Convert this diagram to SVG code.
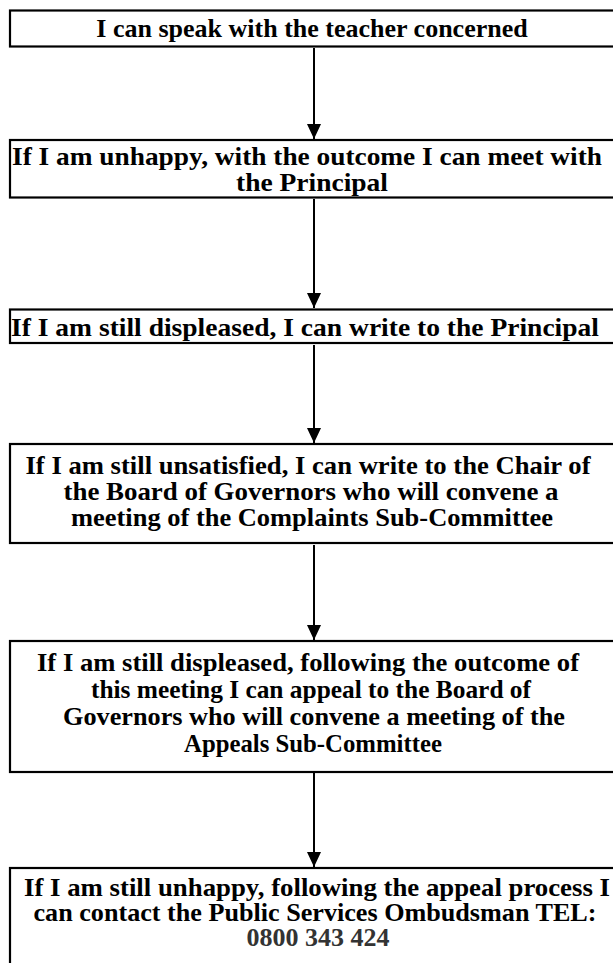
<svg xmlns="http://www.w3.org/2000/svg" width="613" height="963" viewBox="0 0 613 963">
<defs>
<style>
.box{fill:#ffffff;stroke:#000000;stroke-width:2.2}
.t{font-family:"Liberation Serif","Times New Roman",serif;font-weight:bold;font-size:26px;fill:#000000;text-anchor:middle}
.g{fill:#333333}
.c{stroke:#000000;stroke-width:2;fill:none;marker-end:url(#ah)}
</style>
<marker id="ah" markerUnits="userSpaceOnUse" markerWidth="16" markerHeight="16" viewBox="0 0 16 16" refX="15" refY="8" orient="auto">
<path d="M0,1 L15,8 L0,15 Z" fill="#000000"/>
</marker>
</defs>
<rect width="613" height="963" fill="#ffffff"/>
<g id="connectors">
<line class="c" x1="314" y1="48" x2="314" y2="139"/>
<line class="c" x1="314" y1="199" x2="314" y2="308"/>
<line class="c" x1="314" y1="345" x2="314" y2="443"/>
<line class="c" x1="314" y1="545" x2="314" y2="640"/>
<line class="c" x1="314" y1="773" x2="314" y2="867"/>
</g>
<g id="n1">
<rect class="box" x="10" y="10.5" width="615" height="36"/>
<text class="t" x="312" y="36.5">I can speak with the teacher concerned</text>
</g>
<g id="n2">
<rect class="box" x="10" y="140" width="615" height="57.5"/>
<text class="t" x="307" y="165" textLength="590" lengthAdjust="spacingAndGlyphs">If I am unhappy, with the outcome I can meet with</text>
<text class="t" x="312" y="191" textLength="152" lengthAdjust="spacingAndGlyphs">the Principal</text>
</g>
<g id="n3">
<rect class="box" x="10" y="309.5" width="615" height="33.5"/>
<text class="t" x="305" y="335.5" textLength="588" lengthAdjust="spacingAndGlyphs">If I am still displeased, I can write to the Principal</text>
</g>
<g id="n4">
<rect class="box" x="10" y="444" width="615" height="99"/>
<text class="t" x="308" y="473.5" textLength="565" lengthAdjust="spacingAndGlyphs">If I am still unsatisfied, I can write to the Chair of</text>
<text class="t" x="311" y="499.5" textLength="495" lengthAdjust="spacingAndGlyphs">the Board of Governors who will convene a</text>
<text class="t" x="312" y="525.5" textLength="482" lengthAdjust="spacingAndGlyphs">meeting of the Complaints Sub-Committee</text>
</g>
<g id="n5">
<rect class="box" x="10" y="641" width="615" height="131"/>
<text class="t" x="308" y="670.5" textLength="542" lengthAdjust="spacingAndGlyphs">If I am still displeased, following the outcome of</text>
<text class="t" x="311" y="697.5" textLength="440" lengthAdjust="spacingAndGlyphs">this meeting I can appeal to the Board of</text>
<text class="t" x="314" y="724.5" textLength="502" lengthAdjust="spacingAndGlyphs">Governors who will convene a meeting of the</text>
<text class="t" x="313" y="751.5" textLength="258" lengthAdjust="spacingAndGlyphs">Appeals Sub-Committee</text>
</g>
<g id="n6">
<rect class="box" x="10" y="868" width="615" height="120"/>
<text class="t" x="317" y="895.5" textLength="586" lengthAdjust="spacingAndGlyphs">If I am still unhappy, following the appeal process I</text>
<text class="t" x="315" y="920.5" textLength="563" lengthAdjust="spacingAndGlyphs">can contact the Public Services Ombudsman TEL:</text>
<text class="t g" x="318" y="945.5">0800 343 424</text>
</g>
</svg>
